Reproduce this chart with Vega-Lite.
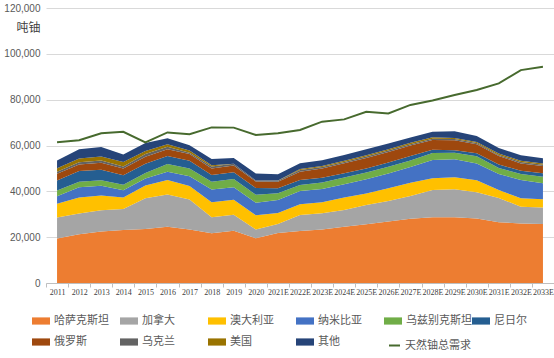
{
  "$schema": "https://vega.github.io/schema/vega-lite/v6.json",
  "width": 508,
  "height": 275,
  "autosize": "none",
  "padding": {"left": 46, "top": 8, "right": 0, "bottom": 75},
  "background": "white",
  "config": {"view": {"stroke": null}, "font": "Liberation Sans"},
  "datasets": {
    "rows": [
      {"year": "2011", "哈萨克斯坦": 19451, "加拿大": 9145, "澳大利亚": 5983, "纳米比亚": 3258, "乌兹别克斯坦": 2500, "尼日尔": 4351, "俄罗斯": 2993, "乌克兰": 890, "美国": 1537, "其他": 3385, "需求": 61400},
      {"year": "2012", "哈萨克斯坦": 21317, "加拿大": 8999, "澳大利亚": 6991, "纳米比亚": 4495, "乌兹别克斯坦": 2400, "尼日尔": 4667, "俄罗斯": 2872, "乌克兰": 960, "美国": 1596, "其他": 4050, "需求": 62300},
      {"year": "2013", "哈萨克斯坦": 22451, "加拿大": 9331, "澳大利亚": 6350, "纳米比亚": 4323, "乌兹别克斯坦": 2400, "尼日尔": 4518, "俄罗斯": 3135, "乌克兰": 922, "美国": 1792, "其他": 4109, "需求": 65300},
      {"year": "2014", "哈萨克斯坦": 23127, "加拿大": 9134, "澳大利亚": 5001, "纳米比亚": 3255, "乌兹别克斯坦": 2400, "尼日尔": 4057, "俄罗斯": 2990, "乌克兰": 926, "美国": 1919, "其他": 3232, "需求": 66000},
      {"year": "2015", "哈萨克斯坦": 23607, "加拿大": 13325, "澳大利亚": 5654, "纳米比亚": 2993, "乌兹别克斯坦": 2385, "尼日尔": 4116, "俄罗斯": 3055, "乌克兰": 1200, "美国": 1256, "其他": 3500, "需求": 61400},
      {"year": "2016", "哈萨克斯坦": 24586, "加拿大": 14039, "澳大利亚": 6315, "纳米比亚": 3654, "乌兹别克斯坦": 3325, "尼日尔": 3479, "俄罗斯": 3004, "乌克兰": 1005, "美国": 1125, "其他": 2600, "需求": 65700},
      {"year": "2017", "哈萨克斯坦": 23321, "加拿大": 13116, "澳大利亚": 5882, "纳米比亚": 4224, "乌兹别克斯坦": 3400, "尼日尔": 3449, "俄罗斯": 2917, "乌克兰": 550, "美国": 940, "其他": 2300, "需求": 64900},
      {"year": "2018", "哈萨克斯坦": 21705, "加拿大": 7001, "澳大利亚": 6517, "纳米比亚": 5525, "乌兹别克斯坦": 3450, "尼日尔": 2911, "俄罗斯": 2904, "乌克兰": 790, "美国": 582, "其他": 2700, "需求": 67900},
      {"year": "2019", "哈萨克斯坦": 22808, "加拿大": 6938, "澳大利亚": 6613, "纳米比亚": 5476, "乌兹别克斯坦": 3500, "尼日尔": 2983, "俄罗斯": 2911, "乌克兰": 800, "美国": 58, "其他": 2500, "需求": 67800},
      {"year": "2020", "哈萨克斯坦": 19477, "加拿大": 3885, "澳大利亚": 6203, "纳米比亚": 5413, "乌兹别克斯坦": 3500, "尼日尔": 2991, "俄罗斯": 2846, "乌克兰": 400, "美国": 6, "其他": 3010, "需求": 64600},
      {"year": "2021E", "哈萨克斯坦": 21800, "加拿大": 4000, "澳大利亚": 4700, "纳米比亚": 5700, "乌兹别克斯坦": 3000, "尼日尔": 2200, "俄罗斯": 2800, "乌克兰": 450, "美国": 50, "其他": 2800, "需求": 65300},
      {"year": "2022E", "哈萨克斯坦": 22700, "加拿大": 7000, "澳大利亚": 4700, "纳米比亚": 5800, "乌兹别克斯坦": 2600, "尼日尔": 2200, "俄罗斯": 3600, "乌克兰": 700, "美国": 500, "其他": 2500, "需求": 66800},
      {"year": "2023E", "哈萨克斯坦": 23400, "加拿大": 7000, "澳大利亚": 4800, "纳米比亚": 5800, "乌兹别克斯坦": 2900, "尼日尔": 2000, "俄罗斯": 4100, "乌克兰": 600, "美国": 500, "其他": 2500, "需求": 70400},
      {"year": "2024E", "哈萨克斯坦": 24600, "加拿大": 7300, "澳大利亚": 5400, "纳米比亚": 5800, "乌兹别克斯坦": 2900, "尼日尔": 1900, "俄罗斯": 4400, "乌克兰": 500, "美国": 500, "其他": 2600, "需求": 71400},
      {"year": "2025E", "哈萨克斯坦": 25600, "加拿大": 8400, "澳大利亚": 5100, "纳米比亚": 6200, "乌兹别克斯坦": 2900, "尼日尔": 1800, "俄罗斯": 4600, "乌克兰": 600, "美国": 600, "其他": 2600, "需求": 74700},
      {"year": "2026E", "哈萨克斯坦": 26800, "加拿大": 9000, "澳大利亚": 5500, "纳米比亚": 6500, "乌兹别克斯坦": 2900, "尼日尔": 1900, "俄罗斯": 4600, "乌克兰": 600, "美国": 600, "其他": 2500, "需求": 74000},
      {"year": "2027E", "哈萨克斯坦": 28000, "加拿大": 10000, "澳大利亚": 5800, "纳米比亚": 6800, "乌兹别克斯坦": 2900, "尼日尔": 1900, "俄罗斯": 4600, "乌克兰": 600, "美国": 600, "其他": 2300, "需求": 77700},
      {"year": "2028E", "哈萨克斯坦": 28700, "加拿大": 11900, "澳大利亚": 5100, "纳米比亚": 8000, "乌兹别克斯坦": 3000, "尼日尔": 1500, "俄罗斯": 4200, "乌克兰": 600, "美国": 600, "其他": 2400, "需求": 79600},
      {"year": "2029E", "哈萨克斯坦": 28700, "加拿大": 12200, "澳大利亚": 5200, "纳米比亚": 7900, "乌兹别克斯坦": 2800, "尼日尔": 1100, "俄罗斯": 4400, "乌克兰": 500, "美国": 500, "其他": 2900, "需求": 82000},
      {"year": "2030E", "哈萨克斯坦": 28200, "加拿大": 11400, "澳大利亚": 5200, "纳米比亚": 7400, "乌兹别克斯坦": 3100, "尼日尔": 1300, "俄罗斯": 4000, "乌克兰": 500, "美国": 400, "其他": 2600, "需求": 84200},
      {"year": "2031E", "哈萨克斯坦": 26500, "加拿大": 10600, "澳大利亚": 3500, "纳米比亚": 7000, "乌兹别克斯坦": 2600, "尼日尔": 1500, "俄罗斯": 3700, "乌克兰": 500, "美国": 600, "其他": 2400, "需求": 87100},
      {"year": "2032E", "哈萨克斯坦": 26000, "加拿大": 7300, "澳大利亚": 3700, "纳米比亚": 8000, "乌兹别克斯坦": 2600, "尼日尔": 1400, "俄罗斯": 3200, "乌克兰": 600, "美国": 600, "其他": 2400, "需求": 92900},
      {"year": "2033E", "哈萨克斯坦": 25700, "加拿大": 7300, "澳大利亚": 3500, "纳米比亚": 7000, "乌兹别克斯坦": 2900, "尼日尔": 1500, "俄罗斯": 3200, "乌克兰": 500, "美国": 600, "其他": 2200, "需求": 94400}
    ],
    "series": [
      {"name": "哈萨克斯坦", "rank": 1},
      {"name": "加拿大", "rank": 2},
      {"name": "澳大利亚", "rank": 3},
      {"name": "纳米比亚", "rank": 4},
      {"name": "乌兹别克斯坦", "rank": 5},
      {"name": "尼日尔", "rank": 6},
      {"name": "俄罗斯", "rank": 7},
      {"name": "乌克兰", "rank": 8},
      {"name": "美国", "rank": 9},
      {"name": "其他", "rank": 10}
    ]
  },
  "data": {"name": "rows"},
  "encoding": {
    "x": {
      "field": "year",
      "type": "ordinal",
      "scale": {"domain": ["2011","2012","2013","2014","2015","2016","2017","2018","2019","2020","2021E","2022E","2023E","2024E","2025E","2026E","2027E","2028E","2029E","2030E","2031E","2032E","2033E"]},
      "axis": {
        "title": null,
        "labelAngle": 0,
        "labelFont": "Liberation Serif",
        "labelFontSize": 8,
        "labelColor": "#404040",
        "labelOverlap": false,
        "labelPadding": 1,
        "tickColor": "#bfbfbf",
        "domainColor": "#bfbfbf",
        "tickSize": 4,
        "tickOffset": -11,
        "labelOffset": 11,
        "grid": false
      }
    }
  },
  "layer": [
    {
      "transform": [
        {"fold": ["哈萨克斯坦","加拿大","澳大利亚","纳米比亚","乌兹别克斯坦","尼日尔","俄罗斯","乌克兰","美国","其他"], "as": ["国家", "产量"]},
        {"lookup": "国家", "from": {"data": {"name": "series"}, "key": "name", "fields": ["rank"]}}
      ],
      "mark": {"type": "area"},
      "encoding": {
        "y": {
          "field": "产量",
          "type": "quantitative",
          "stack": "zero",
          "scale": {"domain": [0, 120000], "nice": false},
          "axis": {
            "title": "吨铀",
            "titleAngle": 0,
            "titleX": -18,
            "titleY": 19,
            "titleAlign": "center",
            "titleBaseline": "middle",
            "titleFont": "Noto Sans CJK SC",
            "titleFontSize": 12,
            "titleFontWeight": "normal",
            "titleColor": "#404040",
            "values": [0, 20000, 40000, 60000, 80000, 100000, 120000],
            "format": ",d",
            "labelFontSize": 10,
            "labelColor": "#595959",
            "labelPadding": 6,
            "gridColor": "#d9d9d9",
            "domain": false,
            "ticks": false
          }
        },
        "color": {
          "field": "国家",
          "type": "nominal",
          "scale": {
            "domain": ["哈萨克斯坦","加拿大","澳大利亚","纳米比亚","乌兹别克斯坦","尼日尔","俄罗斯","乌克兰","美国","其他"],
            "range": ["#ED7D31","#A5A5A5","#FFC000","#4472C4","#70AD47","#255E91","#9E480E","#636363","#997300","#264478"]
          },
          "legend": {
            "orient": "none",
            "legendX": -14,
            "legendY": 304,
            "direction": "horizontal",
            "columns": 6,
            "title": null,
            "symbolType": "M-1,-0.4H1V0.4H-1Z",
            "symbolSize": 324,
            "symbolStrokeWidth": 0,
            "labelFont": "Noto Sans CJK SC",
            "labelFontSize": 11,
            "labelColor": "#595959",
            "labelOffset": 4,
            "rowPadding": 7,
            "columnPadding": 0,
            "gridAlign": "all"
          }
        },
        "order": {"field": "rank", "type": "quantitative"}
      }
    },
    {
      "mark": {"type": "line", "strokeWidth": 2},
      "encoding": {
        "y": {"field": "需求", "type": "quantitative", "title": "吨铀"},
        "stroke": {
          "datum": "天然铀总需求",
          "type": "nominal",
          "scale": {"range": ["#476A2E"]},
          "legend": {
            "orient": "none",
            "legendX": 342,
            "legendY": 331,
            "title": null,
            "symbolType": "stroke",
            "symbolSize": 121,
            "symbolStrokeWidth": 2,
            "labelFont": "Noto Sans CJK SC",
            "labelFontSize": 11,
            "labelColor": "#595959",
            "labelOffset": 4
          }
        }
      }
    }
  ]
}
